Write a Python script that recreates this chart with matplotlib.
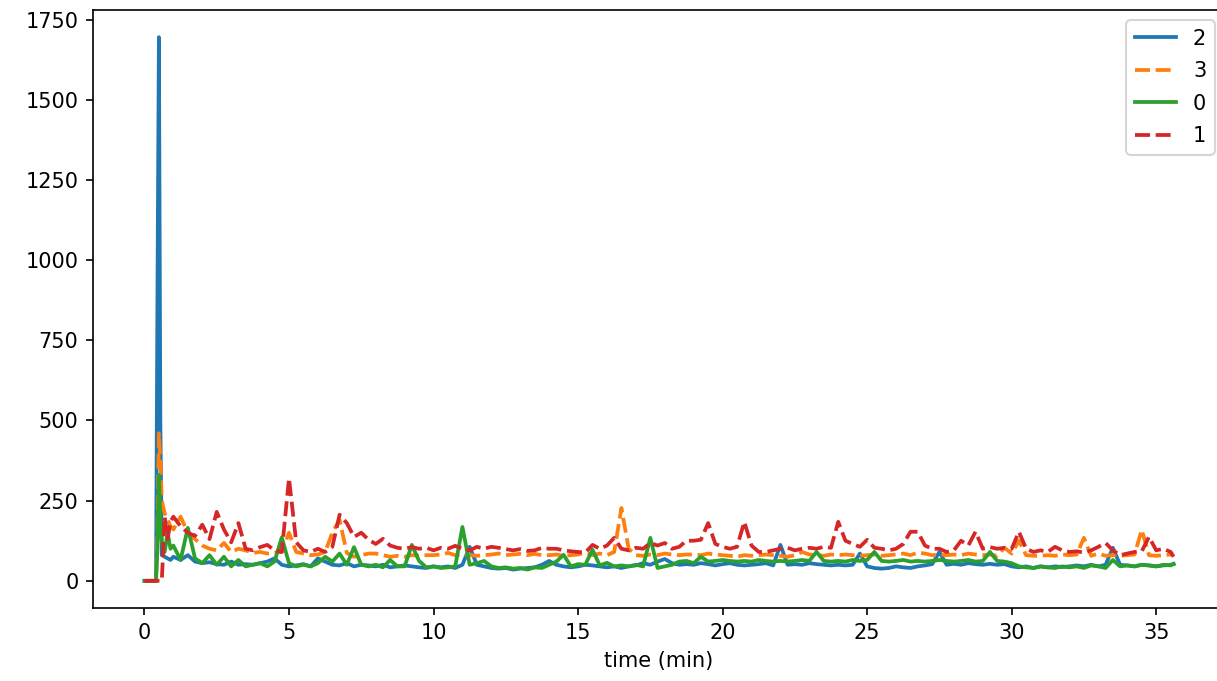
import matplotlib
matplotlib.use("Agg")
import matplotlib.pyplot as plt

# time axis (minutes)
time_min = [
    0.0, 0.1, 0.2, 0.3, 0.4, 0.45, 0.5, 0.55, 0.6, 0.7, 0.8, 0.9,
    1.0, 1.25, 1.5, 1.75, 2.0, 2.25, 2.5, 2.75, 3.0, 3.25, 3.5, 3.75,
    4.0, 4.25, 4.5, 4.75, 5.0, 5.25, 5.5, 5.75, 6.0, 6.25, 6.5, 6.75,
    7.0, 7.25, 7.5, 7.75, 8.0, 8.25, 8.5, 8.75, 9.0, 9.25, 9.5, 9.75,
    10.0, 10.25, 10.5, 10.75, 11.0, 11.25, 11.5, 11.75, 12.0, 12.25, 12.5, 12.75,
    13.0, 13.25, 13.5, 13.75, 14.0, 14.25, 14.5, 14.75, 15.0, 15.25, 15.5, 15.75,
    16.0, 16.25, 16.5, 16.75, 17.0, 17.25, 17.5, 17.75, 18.0, 18.25, 18.5, 18.75,
    19.0, 19.25, 19.5, 19.75, 20.0, 20.25, 20.5, 20.75, 21.0, 21.25, 21.5, 21.75,
    22.0, 22.25, 22.5, 22.75, 23.0, 23.25, 23.5, 23.75, 24.0, 24.25, 24.5, 24.75,
    25.0, 25.25, 25.5, 25.75, 26.0, 26.25, 26.5, 26.75, 27.0, 27.25, 27.5, 27.75,
    28.0, 28.25, 28.5, 28.75, 29.0, 29.25, 29.5, 29.75, 30.0, 30.25, 30.5, 30.75,
    31.0, 31.25, 31.5, 31.75, 32.0, 32.25, 32.5, 32.75, 33.0, 33.25, 33.5, 33.75,
    34.0, 34.25, 34.5, 34.75, 35.0, 35.25, 35.5, 35.6,
]

series_2 = [
    0, 0, 0, 0, 0, 900, 1695, 500, 80, 75, 70, 65,
    75, 65, 80, 60, 55, 58, 52, 50, 60, 50, 52, 50,
    55, 60, 70, 50, 45, 48, 52, 45, 70, 60, 50, 48,
    55, 45, 50, 48, 45, 50, 42, 45, 48, 45, 42, 40,
    45, 42, 45, 40, 50, 106, 50, 45, 40, 38, 40, 35,
    38, 40, 42, 50, 62, 50, 45, 42, 45, 50, 48, 45,
    42, 45, 40, 45, 48, 55, 50, 60, 68, 55, 50, 52,
    50, 55, 52, 48, 52, 55, 50, 48, 50, 52, 55, 48,
    112, 50, 52, 50, 55, 52, 50, 48, 50, 48, 50, 85,
    45, 40, 38, 40, 45, 42, 40, 45, 48, 52, 90, 50,
    53, 50, 55, 52, 50, 53, 50, 52, 45, 42, 45, 40,
    45, 42, 45, 43, 45, 48, 45, 50, 45, 50, 103, 50,
    48, 45, 50, 48, 45, 48, 50, 52,
]

series_3 = [
    0, 0, 0, 0, 0, 150, 460, 380, 250, 210, 190, 170,
    160, 200, 150, 130, 110, 100, 95, 118, 90, 100, 95, 87,
    90, 85, 88, 90, 150, 90, 85, 80, 82, 90, 150, 190,
    87, 75, 80, 85, 85, 80, 75, 78, 75, 80, 78, 80,
    80, 82, 87, 80, 82, 80, 78, 80, 82, 85, 80, 82,
    84, 80, 84, 80, 80, 82, 78, 80, 82, 88, 80, 85,
    80, 90, 227, 100, 80, 78, 82, 80, 85, 82, 80, 82,
    82, 80, 85, 82, 80, 78, 75, 80, 78, 80, 82, 80,
    78, 75, 80, 90, 82, 80, 78, 82, 80, 82, 80, 78,
    80, 82, 78, 80, 82, 85, 80, 88, 85, 80, 82, 80,
    82, 80, 85, 82, 80, 82, 78, 103, 85, 125, 80, 78,
    78, 80, 78, 82, 80, 82, 134, 78, 85, 78, 80, 78,
    80, 82, 159, 80, 78, 80, 82, 84,
]

series_0 = [
    0, 0, 0, 0, 0, 100, 330, 180, 120, 90, 150, 100,
    110, 65, 165, 70, 55, 80, 50, 75, 45, 65, 45, 50,
    55, 45, 60, 135, 55, 45, 50, 45, 55, 75, 60, 85,
    50, 105, 50, 45, 50, 42, 65, 45, 45, 112, 62, 42,
    45, 40, 42, 45, 168, 50, 55, 62, 45, 40, 42, 38,
    40, 35, 42, 40, 50, 60, 81, 45, 52, 50, 97, 48,
    56, 45, 48, 45, 50, 45, 134, 40, 45, 50, 60, 62,
    55, 75, 60, 62, 65, 62, 60, 62, 60, 65, 62, 60,
    62, 60, 62, 65, 62, 90, 62, 60, 62, 60, 65, 62,
    65, 90, 62, 60, 62, 65, 60, 62, 60, 62, 65, 62,
    60, 62, 65, 60, 62, 90, 62, 60, 55, 45, 42, 40,
    45, 42, 40, 45, 42, 45, 40, 48, 45, 40, 65, 45,
    48, 45, 50, 48, 45, 50, 48, 53,
]

series_1 = [
    0, 0, 0, 0, 0, 0, 0, 0, 0, 200, 130, 185,
    200, 170, 150, 140, 175, 130, 215, 160, 120, 180, 100, 95,
    105, 112, 95, 90, 320, 120, 95, 90, 100, 90, 106, 206,
    180, 137, 150, 128, 115, 131, 110, 103, 100, 105, 100, 103,
    95, 103, 100, 109, 100, 95, 106, 100, 106, 103, 99, 95,
    99, 93, 95, 103, 100, 100, 95, 92, 90, 88, 112, 100,
    110, 134, 100, 95, 103, 100, 118, 110, 118, 100, 106, 125,
    125, 128, 180, 115, 106, 100, 106, 184, 110, 90, 90, 95,
    100, 103, 95, 100, 103, 100, 106, 103, 184, 125, 115, 106,
    128, 103, 100, 95, 100, 115, 153, 153, 110, 100, 100, 90,
    95, 125, 110, 153, 100, 105, 100, 103, 100, 153, 100, 90,
    95, 90, 106, 95, 90, 92, 88, 95, 106, 118, 95, 80,
    85, 90, 92, 137, 95, 100, 90, 75,
]

series_labels = ["2", "3", "0", "1"]
series_values = [series_2, series_3, series_0, series_1]
series_colors = ["#1f77b4", "#ff7f0e", "#2ca02c", "#d62728"]
series_dashed = [False, True, False, True]

W, H, DPI = 1217, 681, 150
fig = plt.figure(figsize=(W / DPI, H / DPI), dpi=DPI)
left, right, top, bottom = 93, 1225, 10, 608
ax = fig.add_axes([left / W, (H - bottom) / H, (right - left) / W, (bottom - top) / H])

for lab, vals, col, dashed in zip(series_labels, series_values, series_colors, series_dashed):
    line, = ax.plot(time_min, vals, color=col, linewidth=1.8, label=lab)
    if dashed:
        line.set_dashes((4, 1.5))

ax.set_xlabel("time (min)")
ax.legend(loc="upper right", labelspacing=0.6)

fig.savefig("out.png", dpi=DPI)
